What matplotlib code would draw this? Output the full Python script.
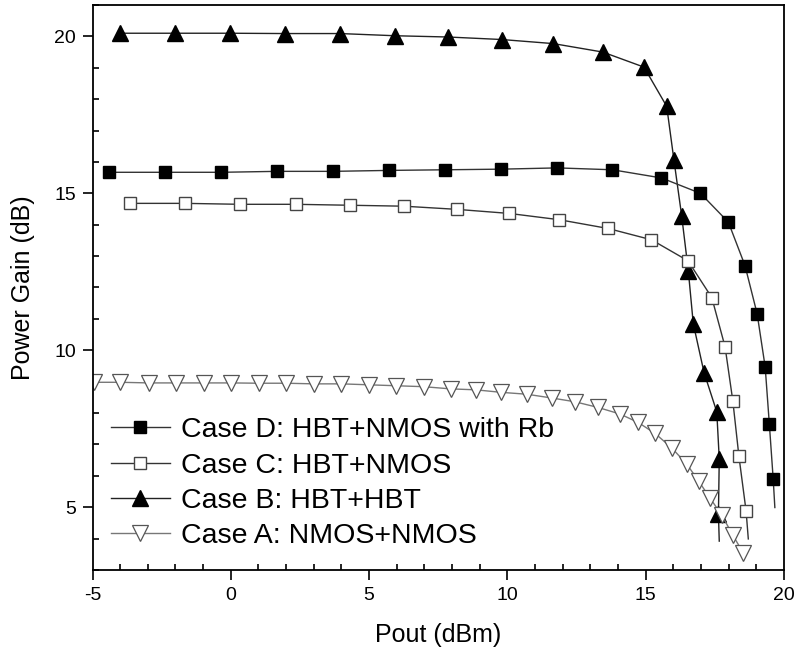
import matplotlib.pyplot as plt
from matplotlib.ticker import MultipleLocator

# Case D: HBT+NMOS with Rb (last point = end of line, no marker)
pout_d = [-4.39, -2.37, -0.34, 1.68, 3.68, 5.72, 7.75, 9.78, 11.81, 13.80,
          15.57, 16.98, 17.99, 18.59, 19.03, 19.32, 19.47, 19.61, 19.67]
gain_d = [15.67, 15.67, 15.67, 15.70, 15.70, 15.73, 15.75, 15.77, 15.81, 15.75,
          15.49, 15.00, 14.08, 12.70, 11.16, 9.47, 7.66, 5.90, 4.99]

# Case C: HBT+NMOS
pout_c = [-3.65, -1.65, 0.35, 2.34, 4.31, 6.26, 8.16, 10.06, 11.87, 13.64,
          15.21, 16.53, 17.39, 17.87, 18.15, 18.37, 18.63, 18.71]
gain_c = [14.68, 14.68, 14.65, 14.65, 14.62, 14.59, 14.49, 14.36, 14.16, 13.88,
          13.52, 12.85, 11.68, 10.11, 8.39, 6.63, 4.88, 3.99]

# Case B: HBT+HBT
pout_b = [-4.01, -2.02, -0.03, 1.96, 3.95, 5.94, 7.85, 9.79, 11.66, 13.45,
          14.94, 15.76, 16.02, 16.30, 16.54, 16.72, 17.11, 17.57, 17.66, 17.63, 17.66]
gain_b = [20.10, 20.10, 20.10, 20.09, 20.09, 20.02, 19.98, 19.90, 19.77, 19.50,
          19.02, 17.77, 16.07, 14.29, 12.54, 10.85, 9.29, 8.04, 6.54, 4.78, 3.92]

# Case A: NMOS+NMOS
pout_a = [-4.95, -3.99, -2.96, -1.97, -0.97, 0.02, 1.02, 2.01, 3.01, 4.00,
          4.98, 5.97, 6.97, 7.95, 8.86, 9.77, 10.70, 11.60, 12.44, 13.27,
          14.07, 14.73, 15.34, 15.94, 16.48, 16.91, 17.32, 17.75, 18.15, 18.53]
gain_a = [8.98, 8.98, 8.96, 8.96, 8.96, 8.96, 8.95, 8.95, 8.93, 8.93,
          8.90, 8.87, 8.84, 8.77, 8.74, 8.66, 8.60, 8.48, 8.36, 8.18,
          7.97, 7.70, 7.35, 6.89, 6.38, 5.84, 5.30, 4.75, 4.11, 3.54]

plt.rcParams['font.family'] = ['Liberation Sans', 'DejaVu Sans']
plt.rcParams['axes.unicode_minus'] = False

fig = plt.figure(figsize=(7.99, 6.56), dpi=100)
ax = fig.add_axes([0.1158, 0.1311, 0.8654, 0.8613])

lb, = ax.plot(pout_b, gain_b, '-', color='#222222', lw=1.0, marker='^', ms=11,
              mfc='black', mec='black', markevery=slice(0, len(pout_b) - 1),
              label='Case B: HBT+HBT')
ld, = ax.plot(pout_d, gain_d, '-', color='#333333', lw=1.0, marker='s', ms=8.5,
              mfc='black', mec='black', markevery=slice(0, len(pout_d) - 1),
              label='Case D: HBT+NMOS with Rb')
lc, = ax.plot(pout_c, gain_c, '-', color='#333333', lw=1.0, marker='s', ms=8.5,
              mfc='white', mec='#444444', mew=1.0, markevery=slice(0, len(pout_c) - 1),
              label='Case C: HBT+NMOS')
la, = ax.plot(pout_a, gain_a, '-', color='#777777', lw=1.0, marker='v', ms=11,
              mfc='white', mec='#555555', mew=0.9,
              label='Case A: NMOS+NMOS')

ax.set_xlim(-5, 20)
ax.set_ylim(3, 21)
ax.xaxis.set_major_locator(MultipleLocator(5))
ax.xaxis.set_minor_locator(MultipleLocator(1))
ax.yaxis.set_major_locator(MultipleLocator(5))
ax.yaxis.set_minor_locator(MultipleLocator(1))
ax.tick_params(which='major', direction='out', length=7, width=1.2, labelsize=14, pad=5)
ax.tick_params(which='minor', direction='in', length=4.5, width=1.2)
for s in ax.spines.values():
    s.set_linewidth(1.3)

ax.set_xlabel('Pout (dBm)', fontsize=18, labelpad=14)
ax.set_ylabel('Power Gain (dB)', fontsize=18, labelpad=14)

ax.legend(handles=[ld, lc, lb, la], loc='upper left', bbox_to_anchor=(0.027, 0.27),
          frameon=False, fontsize=20.5, borderaxespad=0, borderpad=0,
          handlelength=2.05, handletextpad=0.4, labelspacing=0.32)

fig.savefig('out.png', dpi=100)
